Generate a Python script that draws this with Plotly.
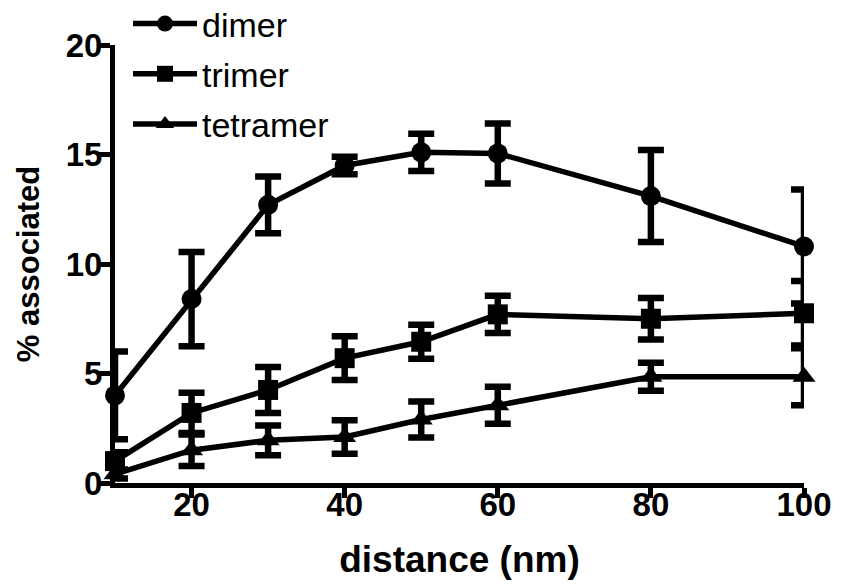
import plotly.graph_objects as go

distance = [10, 20, 30, 40, 50, 60, 80, 100]

dimer = [4.0, 8.4, 12.7, 14.5, 15.1, 15.05, 13.1, 10.8]
dimer_err = [2.0, 2.15, 1.3, 0.4, 0.85, 1.37, 2.1, 2.6]

trimer = [1.0, 3.2, 4.25, 5.7, 6.45, 7.7, 7.5, 7.75]
trimer_err = [0.4, 0.92, 1.05, 1.0, 0.78, 0.85, 0.95, 1.47]

tetramer = [0.4, 1.5, 1.95, 2.1, 2.9, 3.55, 4.85, 4.85]
tetramer_err = [0.2, 0.72, 0.68, 0.76, 0.82, 0.85, 0.64, 1.3]

x_ticks = [20, 40, 60, 80, 100]
y_ticks = [0, 5, 10, 15, 20]

series = [
    ("dimer", dimer, dimer_err, "circle"),
    ("trimer", trimer, trimer_err, "square"),
    ("tetramer", tetramer, tetramer_err, "triangle-up"),
]

FONT = "Liberation Sans, Arial, sans-serif"

fig = go.Figure()
for name, vals, errs, sym in series:
    fig.add_trace(go.Scatter(
        x=distance, y=vals, name=name, mode="lines+markers",
        legendgroup=name,
        line=dict(color="black", width=5.5),
        marker=dict(symbol=sym, size=20, color="black"),
        error_y=dict(type="data", array=errs, visible=True,
                     color="black", thickness=6.5, width=13),
        cliponaxis=False,
    ))

fig.update_layout(
    width=843, height=586,
    margin=dict(l=115, r=39, t=45, b=103, autoexpand=False),
    paper_bgcolor="white", plot_bgcolor="white",
    font=dict(family=FONT, color="black"),
    showlegend=True,
    legend=dict(
        x=(128 - 115) / (843 - 115 - 39), y=1.0 + 50 / 438,
        xanchor="left", yanchor="top",
        font=dict(family=FONT, size=34, color="black"),
        bgcolor="rgba(0,0,0,0)", itemwidth=64,
        tracegroupgap=3,
    ),
)

fig.update_xaxes(
    range=[10, 100], tickvals=x_ticks,
    showgrid=False, zeroline=False,
    showline=True, linecolor="black", linewidth=5,
    ticks="outside", ticklen=10, tickwidth=5, tickcolor="black",
    ticklabelstandoff=-22,
    tickfont=dict(family=FONT, size=33, weight="bold", color="black"),
    title=dict(text="distance (nm)", standoff=26,
               font=dict(family=FONT, size=37, weight="bold", color="black")),
)
fig.update_yaxes(
    range=[0, 20], tickvals=y_ticks,
    showgrid=False, zeroline=False,
    showline=True, linecolor="black", linewidth=5,
    ticks="outside", ticklen=12, tickwidth=5, tickcolor="black",
    ticklabelstandoff=-11,
    tickfont=dict(family=FONT, size=33, weight="bold", color="black"),
    title=dict(text="% associated", standoff=18,
               font=dict(family=FONT, size=31, weight="bold", color="black")),
)

fig.write_html("out.html")
